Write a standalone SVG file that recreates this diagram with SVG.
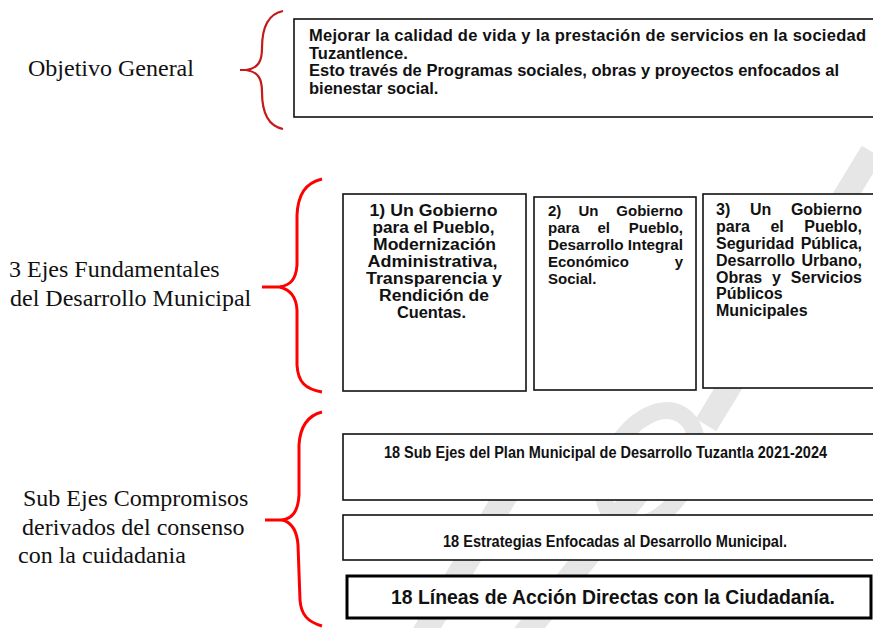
<svg xmlns="http://www.w3.org/2000/svg" width="873" height="628" viewBox="0 0 873 628">
<style>
.lbl{font-family:"Liberation Serif","Times New Roman",serif;font-size:24px;fill:#111}
.b{font-family:"Liberation Sans",Arial,sans-serif;font-weight:bold;fill:#111}
.box{fill:#fff;stroke:#111;stroke-width:1.6}
.nar{font-family:"Liberation Sans",Arial,sans-serif;font-weight:bold;fill:#111}
</style>
<rect width="873" height="628" fill="#fff"/>
<g id="watermark" fill="none" stroke="#e6e6e6">
<line x1="872" y1="152" x2="706" y2="425" stroke-width="24"/>
<ellipse cx="650" cy="468" rx="40" ry="62" transform="rotate(30 650 468)" stroke-width="17"/>
<line x1="515" y1="480" x2="420" y2="640" stroke-width="24"/>
<line x1="640" y1="490" x2="520" y2="640" stroke-width="24"/>
</g>
<g id="connectors" fill="none">
<path d="M283 11 C268 14 262 28 262 48 C262 62 258 68 246 70 C258 72 262 78 262 92 C262 112 268 126 283 129" stroke="#c41a1a" stroke-width="2.2"/>
<path d="M240 70 L250 70" stroke="#c41a1a" stroke-width="2"/>
<path d="M322 179 C305 183 298 195 297 215 L297 265 C296 280 290 285 280 287 C290 290 296 296 297 310 L297 365 C298 382 305 389 322 392" stroke="#ff0000" stroke-width="3"/>
<path d="M262 287 L282 287" stroke="#ff0000" stroke-width="3"/>
<path d="M322 412 C306 416 300 428 299 445 L299 495 C298 512 292 518 283 520 C292 523 297 530 298 545 L300 600 C301 615 308 622 322 626" stroke="#ff0000" stroke-width="3"/>
<path d="M265 520 L285 520" stroke="#ff0000" stroke-width="3"/>
</g>
<g id="label-objetivo"><text class="lbl" x="28" y="76">Objetivo General</text></g>
<g id="label-ejes"><text class="lbl" x="9" y="277">3 Ejes Fundamentales</text><text class="lbl" x="10" y="306">del Desarrollo Municipal</text></g>
<g id="label-subejes"><text class="lbl" x="23" y="506">Sub Ejes Compromisos</text><text class="lbl" x="22" y="535">derivados del consenso</text><text class="lbl" x="18" y="563">con la cuidadania</text></g>
<g id="objetivo">
<rect class="box" x="294" y="19" width="600" height="98"/>
<text class="b" font-size="16.5">
<tspan x="309" y="41" textLength="557" lengthAdjust="spacing">Mejorar la calidad de vida y la prestación de servicios en la sociedad</tspan>
<tspan x="309" y="58.5">Tuzantlence.</tspan>
<tspan x="309" y="76">Esto través de Programas sociales, obras y proyectos enfocados al</tspan>
<tspan x="309" y="93.5">bienestar social.</tspan></text>
</g>
<g id="eje1">
<rect class="box" x="343" y="194" width="183" height="197"/>
<g class="b" font-size="16" text-anchor="middle">
<text x="433.5" y="216" textLength="128" lengthAdjust="spacingAndGlyphs">1) Un Gobierno</text>
<text x="433.5" y="233" textLength="122" lengthAdjust="spacingAndGlyphs">para el Pueblo,</text>
<text x="434.5" y="250" textLength="123" lengthAdjust="spacingAndGlyphs">Modernización</text>
<text x="432.5" y="267" textLength="130" lengthAdjust="spacingAndGlyphs">Administrativa,</text>
<text x="434" y="284" textLength="136" lengthAdjust="spacingAndGlyphs">Transparencia y</text>
<text x="434" y="301" textLength="110" lengthAdjust="spacingAndGlyphs">Rendición de</text>
<text x="431.5" y="318" textLength="69" lengthAdjust="spacingAndGlyphs">Cuentas.</text>
</g>
</g>
<g id="eje2">
<rect class="box" x="534" y="197" width="162" height="193"/>
<g class="b" font-size="15">
<text x="548" y="216">2)</text><text x="578.5" y="216">Un</text><text x="683" y="216" text-anchor="end">Gobierno</text>
<text x="548" y="233">para</text><text x="597.5" y="233">el</text><text x="683" y="233" text-anchor="end">Pueblo,</text>
<text x="548" y="250" textLength="135" lengthAdjust="spacingAndGlyphs">Desarrollo Integral</text>
<text x="548" y="267">Económico</text><text x="683" y="267" text-anchor="end">y</text>
<text x="548" y="284">Social.</text>
</g>
</g>
<g id="eje3">
<rect class="box" x="703" y="194" width="190" height="194"/>
<g class="b" font-size="16">
<text x="716" y="215">3)</text><text x="750" y="215">Un</text><text x="862" y="215" text-anchor="end">Gobierno</text>
<text x="716" y="232">para</text><text x="770.4" y="232">el</text><text x="862" y="232" text-anchor="end">Pueblo,</text>
<text x="716" y="249">Seguridad</text><text x="862" y="249" text-anchor="end">Pública,</text>
<text x="716" y="266">Desarrollo</text><text x="862" y="266" text-anchor="end">Urbano,</text>
<text x="716" y="283">Obras</text><text x="772" y="283">y</text><text x="862" y="283" text-anchor="end">Servicios</text>
<text x="716" y="299">Públicos</text>
<text x="716" y="316">Municipales</text>
</g>
</g>
<g id="subejes">
<rect class="box" x="343" y="434" width="560" height="66"/>
<text class="nar" font-size="16" x="384" y="458" textLength="443" lengthAdjust="spacingAndGlyphs">18 Sub Ejes del Plan Municipal de Desarrollo Tuzantla 2021-2024</text>
</g>
<g id="estrategias">
<rect class="box" x="343" y="515" width="560" height="45"/>
<text class="nar" font-size="16" x="443" y="547" textLength="344" lengthAdjust="spacingAndGlyphs">18 Estrategias Enfocadas al Desarrollo Municipal.</text>
</g>
<g id="lineas">
<rect x="347" y="576" width="524" height="42" fill="#fff" stroke="#000" stroke-width="3"/>
<text class="nar" font-size="21" x="391" y="604" textLength="444" lengthAdjust="spacingAndGlyphs">18 Líneas de Acción Directas con la Ciudadanía.</text>
</g>
</svg>
